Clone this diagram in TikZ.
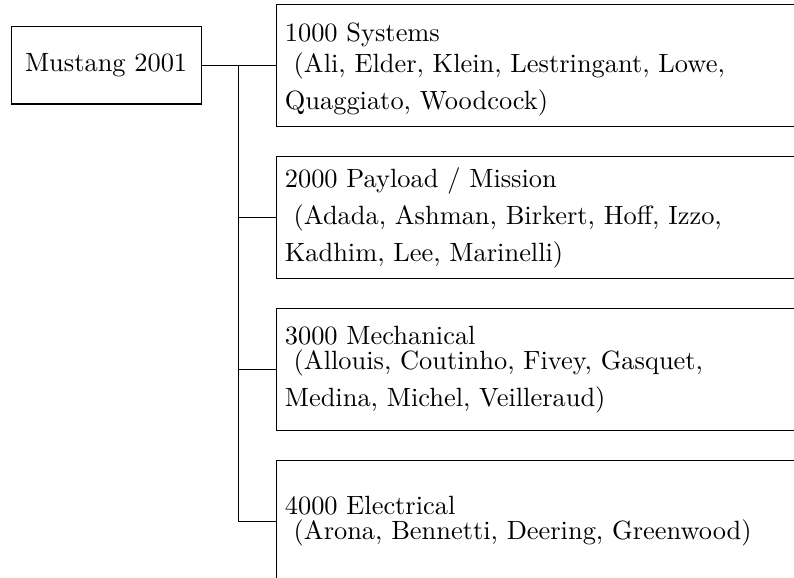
\documentclass[tikz,border=0pt]{standalone}
\usetikzlibrary{positioning, calc}

\begin{document}
\begin{tikzpicture}[
	rootbox/.style={rectangle, draw, minimum width=72pt, minimum height=29.2pt, font=\normalsize},
	teambox/.style={rectangle, draw, text width=200pt, align=left, inner xsep=3.33pt, minimum height=46.2pt, font=\fontsize{10}{14}\selectfont}
]
\useasboundingbox (-40.2pt,24.8pt) rectangle (260.6pt,-194.1pt);

\node[rootbox] (mustang) {Mustang 2001};
\node[teambox, right=28pt of mustang] (systems) {\rule{0pt}{10pt}1000 Systems\\[-2pt]\mbox{} (Ali, Elder, Klein, Lestringant, Lowe,\\Quaggiato, Woodcock)};
\node[teambox, below=11pt of systems] (payload) {2000 Payload / Mission\\\mbox{} (Adada, Ashman, Birkert, Hoff, Izzo,\\Kadhim, Lee, Marinelli)};
\node[teambox, below=11pt of payload] (mechanical) {3000 Mechanical\\[-4.8pt]\mbox{} (Allouis, Coutinho, Fivey, Gasquet,\\Medina, Michel, Veilleraud)};
\node[teambox, below=11pt of mechanical] (electrical) {4000 Electrical\\[-4.5pt]\mbox{} (Arona, Bennetti, Deering, Greenwood)};
\coordinate (split) at ($(mustang.east)!0.5!(systems.west)$);

\draw (mustang) -- (systems);
\draw (split) |- (payload.west);
\draw (split) |- (mechanical.west);
\draw (split) |- (electrical.west);
\end{tikzpicture}
\end{document}
